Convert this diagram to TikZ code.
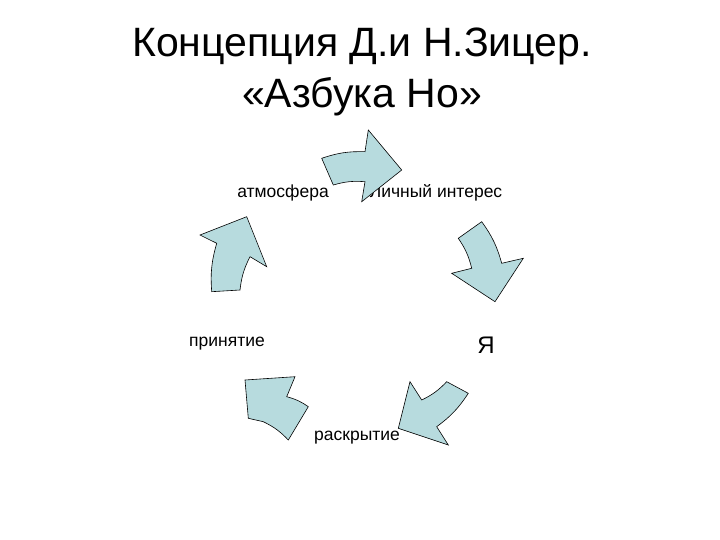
\documentclass[tikz,border=0pt]{standalone}
\usepackage{fontspec}
\setmainfont{Liberation Sans}
\begin{document}
\begin{tikzpicture}[x=1pt,y=-1pt,
  arr/.style={draw=black,line width=0.6pt,fill={rgb,255:red,183;green,219;blue,222},line join=miter},
  lbl/.style={font=\fontsize{17.5}{20}\selectfont,inner sep=0pt},
  ttl/.style={font=\fontsize{41}{46}\selectfont,inner sep=0pt}]
\useasboundingbox (0,0) rectangle (720,540);
\node[ttl] (t1) at (362,46) {Концепция Д.и Н.Зицер.};
\node[ttl] (t2) at (362,97) {«Азбука Но»};
\node[lbl] (atm) at (283,193) {атмосфера};
\node[lbl] (li) at (436,193) {Личный интерес};
\node[lbl] (ya) at (486,345) {\fontsize{24}{26}\selectfont Я};
\node[lbl] (ras) at (357,438) {раскрытие};
\node[lbl] (pri) at (227,344) {принятие};
% top
\draw[arr] (321.7,158.3) to[bend left=10] (365,151.7) -- (368.3,130) -- (401.7,170) -- (361.7,201.7) -- (365,181.7) to[bend right=10] (333.3,185) -- cycle;
% right
\draw[arr] (458.3,238.3) -- (481.7,221.7) to[bend left=10] (501.7,263.3) -- (523.3,258.3) -- (495,301.7) -- (451.7,273.3) -- (471.7,268.3) to[bend right=10] cycle;
% bottom right
\draw[arr] (468.3,393.3) to[bend left=10] (436.7,426.7) -- (448.3,445) -- (398.3,428.3) -- (410,381.7) -- (421.7,400) to[bend right=10] (446.7,381.7) -- cycle;
% bottom left
\draw[arr] (308.3,406.7) -- (288.3,440) to[bend right=10] (263.3,421.7) -- (248.3,418.3) -- (245,380) -- (295,376.7) -- (286.7,396.7) to[bend left=10] cycle;
% left
\draw[arr] (240,290) -- (211.7,291.7) to[bend left=10] (216.7,243.3) -- (200,235) -- (246.7,216.7) -- (266.7,266.7) -- (250,256.7) to[bend right=10] cycle;
\end{tikzpicture}
\end{document}
